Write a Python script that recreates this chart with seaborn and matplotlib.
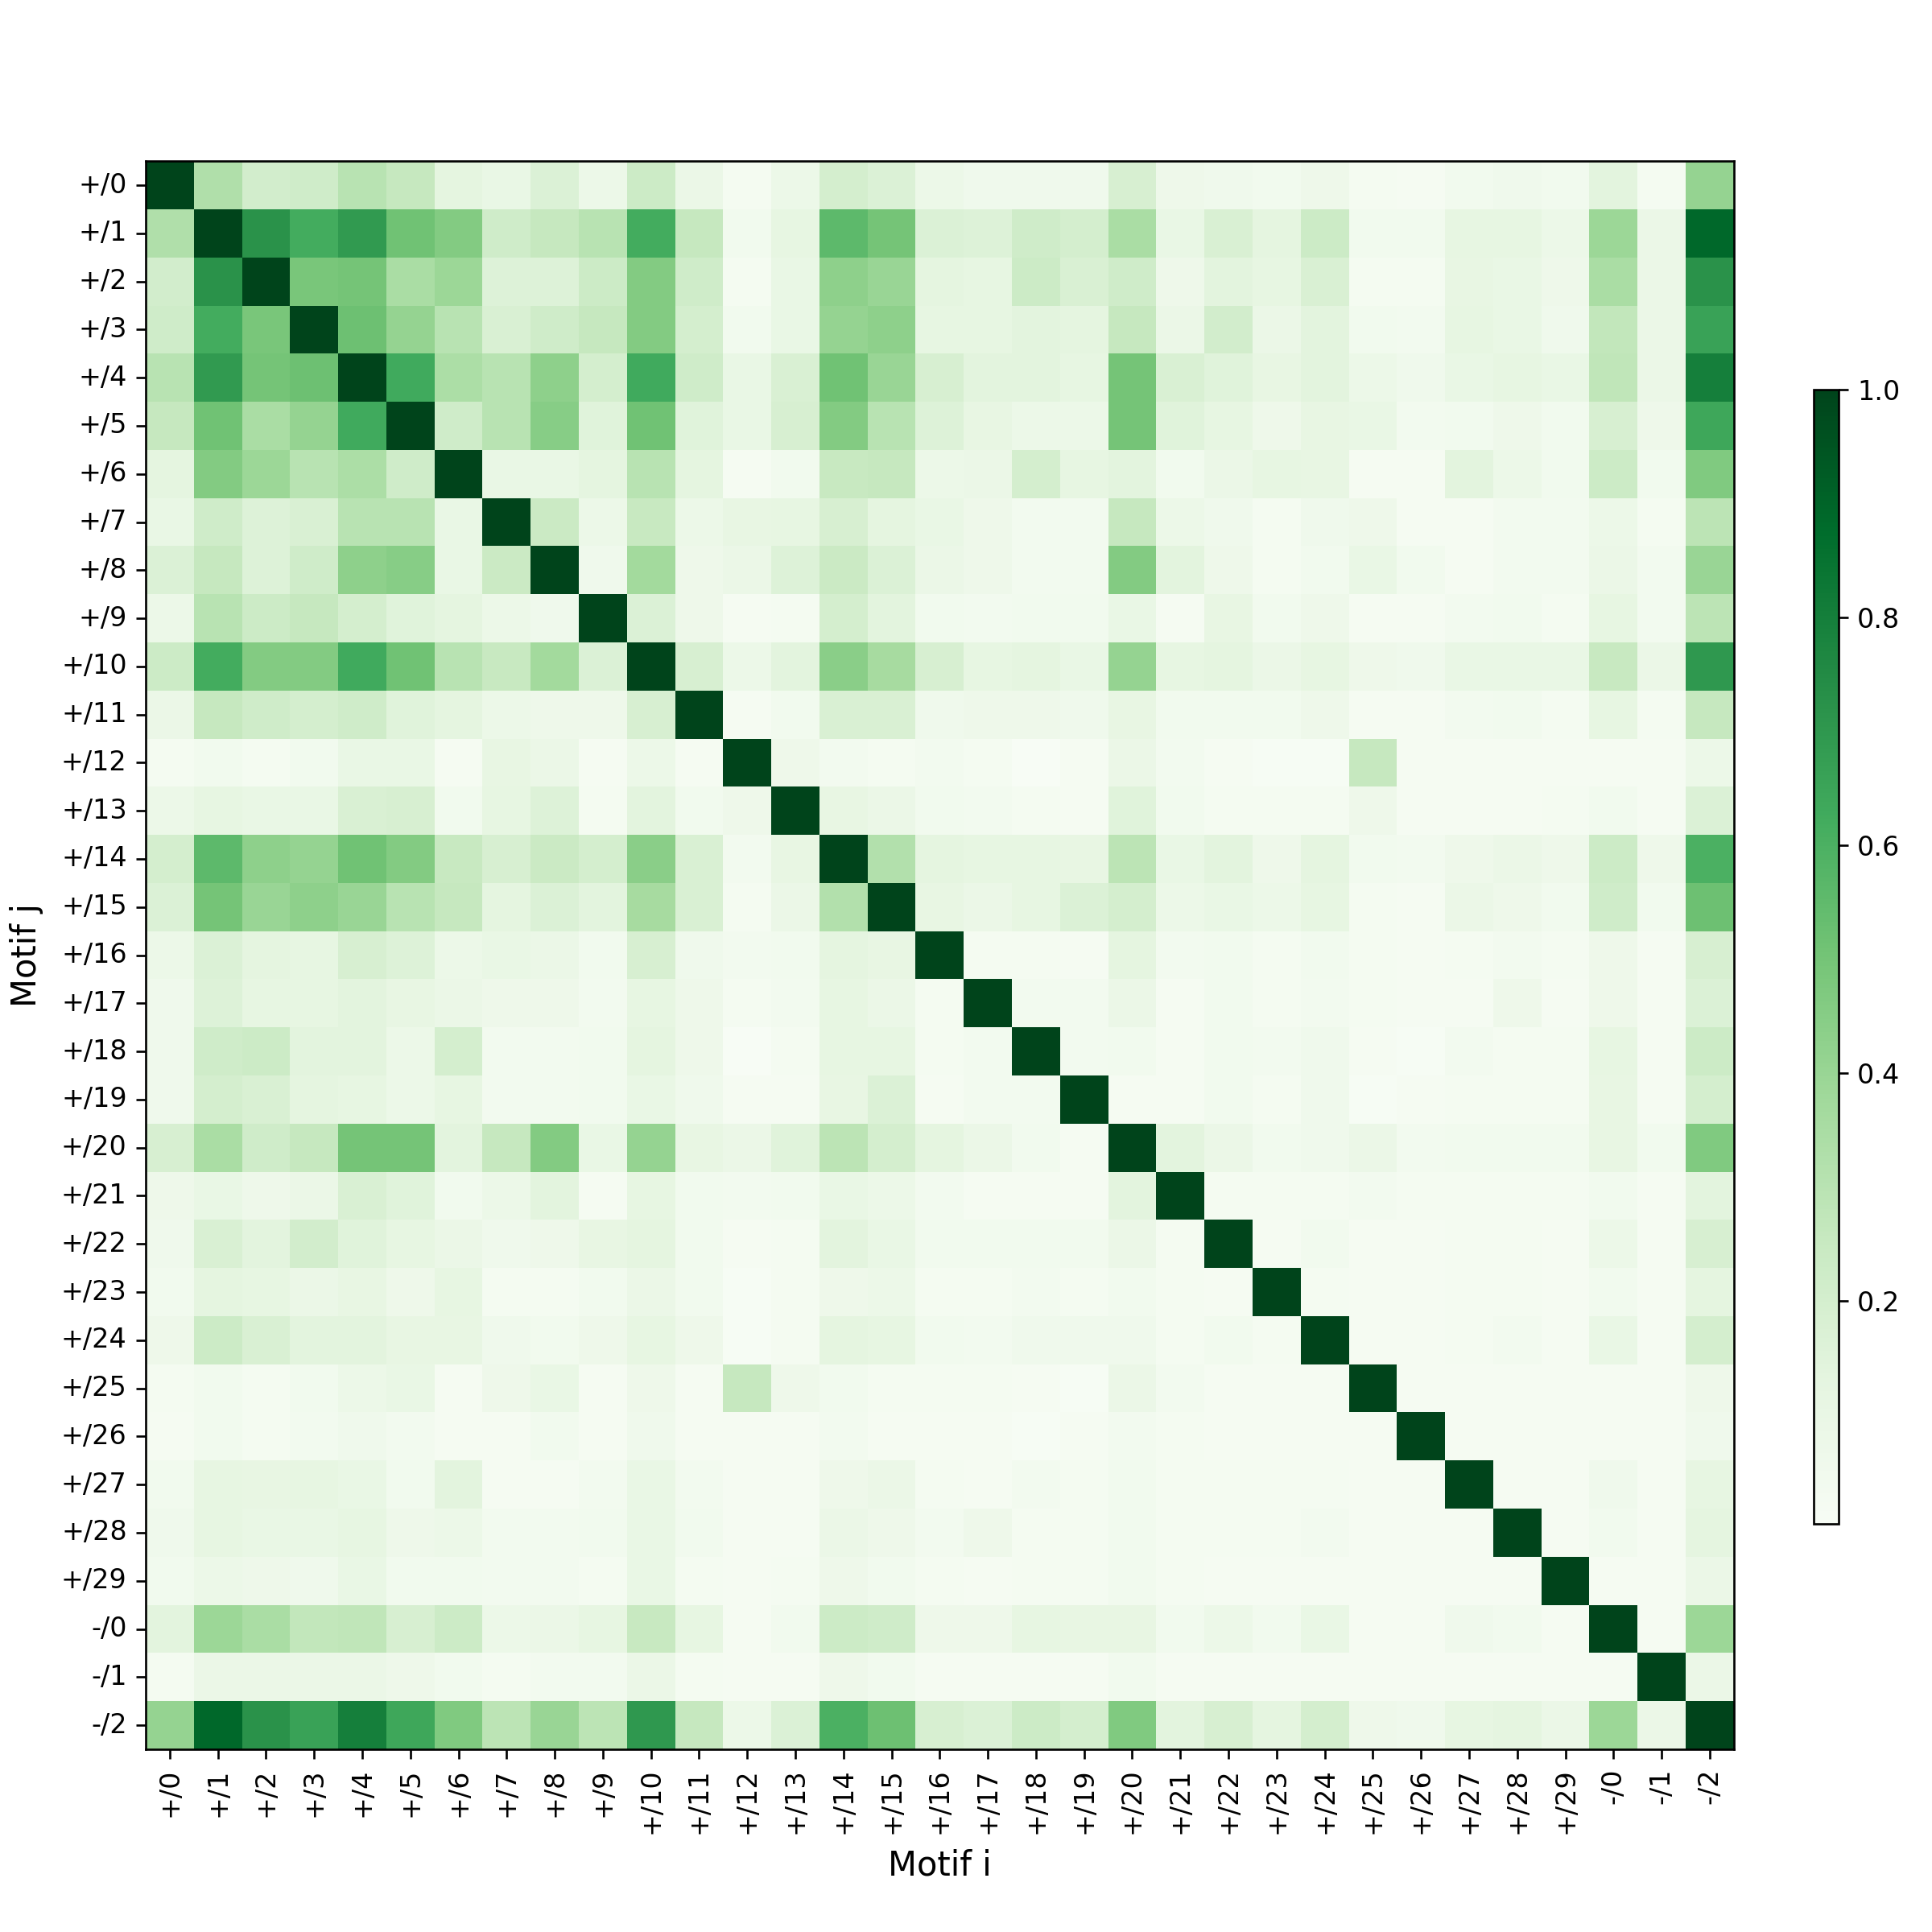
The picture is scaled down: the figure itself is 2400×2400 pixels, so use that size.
import numpy as np
import pandas as pd
import matplotlib
matplotlib.use("Agg")
import matplotlib.pyplot as plt
import seaborn as sns

labels = ["+/0", "+/1", "+/2", "+/3", "+/4", "+/5", "+/6", "+/7", "+/8", "+/9",
          "+/10", "+/11", "+/12", "+/13", "+/14", "+/15", "+/16", "+/17", "+/18", "+/19",
          "+/20", "+/21", "+/22", "+/23", "+/24", "+/25", "+/26", "+/27", "+/28", "+/29",
          "-/0", "-/1", "-/2"]

# upper-triangle rows: row i holds similarity with motifs i+1 .. last
u00 = [0.33, 0.21, 0.22, 0.30, 0.26, 0.13, 0.10, 0.17, 0.08, 0.23, 0.09, 0.03, 0.08, 0.20, 0.17, 0.08,
       0.06, 0.06, 0.06, 0.19, 0.07, 0.06, 0.05, 0.07, 0.03, 0.02, 0.05, 0.06, 0.05, 0.14, 0.03, 0.41]
u01 = [0.72, 0.62, 0.69, 0.51, 0.46, 0.22, 0.26, 0.30, 0.62, 0.26, 0.05, 0.12, 0.56, 0.50, 0.17,
       0.16, 0.22, 0.20, 0.35, 0.10, 0.18, 0.13, 0.23, 0.05, 0.05, 0.12, 0.12, 0.08, 0.39, 0.09, 0.89]
u02 = [0.49, 0.50, 0.35, 0.39, 0.16, 0.16, 0.23, 0.46, 0.22, 0.03, 0.10, 0.43, 0.40, 0.13, 0.12,
       0.23, 0.18, 0.22, 0.07, 0.14, 0.12, 0.18, 0.03, 0.03, 0.11, 0.10, 0.07, 0.35, 0.09, 0.72]
u03 = [0.52, 0.41, 0.30, 0.18, 0.22, 0.26, 0.46, 0.20, 0.05, 0.10, 0.41, 0.43, 0.12, 0.12, 0.14,
       0.13, 0.26, 0.09, 0.21, 0.09, 0.14, 0.05, 0.04, 0.12, 0.10, 0.06, 0.27, 0.09, 0.66]
u04 = [0.63, 0.34, 0.30, 0.43, 0.20, 0.63, 0.22, 0.10, 0.18, 0.51, 0.40, 0.19, 0.14, 0.14, 0.12,
       0.50, 0.18, 0.15, 0.11, 0.14, 0.08, 0.06, 0.10, 0.12, 0.10, 0.28, 0.09, 0.80]
u05 = [0.22, 0.30, 0.45, 0.15, 0.51, 0.15, 0.10, 0.19, 0.46, 0.30, 0.16, 0.11, 0.08, 0.08, 0.50,
       0.15, 0.12, 0.07, 0.11, 0.10, 0.04, 0.05, 0.07, 0.05, 0.19, 0.07, 0.64]
u06 = [0.10, 0.10, 0.13, 0.30, 0.13, 0.02, 0.05, 0.25, 0.26, 0.08, 0.09, 0.20, 0.12, 0.14, 0.05,
       0.09, 0.12, 0.11, 0.02, 0.02, 0.14, 0.08, 0.05, 0.23, 0.05, 0.47]
u07 = [0.24, 0.08, 0.25, 0.08, 0.11, 0.12, 0.19, 0.13, 0.10, 0.07, 0.04, 0.04, 0.26, 0.08, 0.06,
       0.03, 0.06, 0.07, 0.02, 0.02, 0.04, 0.04, 0.08, 0.03, 0.29]
u08 = [0.06, 0.37, 0.07, 0.09, 0.16, 0.24, 0.17, 0.09, 0.07, 0.04, 0.04, 0.46, 0.14, 0.07, 0.03,
       0.05, 0.10, 0.05, 0.02, 0.04, 0.04, 0.09, 0.04, 0.40]
u09 = [0.17, 0.07, 0.02, 0.03, 0.20, 0.14, 0.05, 0.04, 0.05, 0.05, 0.10, 0.02, 0.11, 0.05, 0.07,
       0.02, 0.02, 0.04, 0.05, 0.03, 0.12, 0.04, 0.29]
u10 = [0.19, 0.08, 0.14, 0.44, 0.36, 0.19, 0.12, 0.13, 0.10, 0.41, 0.12, 0.13, 0.09, 0.12, 0.07,
       0.06, 0.10, 0.10, 0.10, 0.25, 0.09, 0.70]
u11 = [0.02, 0.05, 0.18, 0.18, 0.06, 0.07, 0.07, 0.06, 0.11, 0.05, 0.05, 0.05, 0.07, 0.02, 0.02,
       0.04, 0.05, 0.03, 0.12, 0.03, 0.26]
u12 = [0.07, 0.04, 0.03, 0.04, 0.03, 0.004, 0.02, 0.09, 0.04, 0.02, 0.01, 0.01, 0.26, 0.02, 0.02,
       0.02, 0.02, 0.02, 0.02, 0.08]
u13 = [0.11, 0.09, 0.05, 0.04, 0.03, 0.02, 0.15, 0.05, 0.03, 0.03, 0.03, 0.07, 0.02, 0.02, 0.02,
       0.03, 0.05, 0.02, 0.17]
u14 = [0.32, 0.13, 0.12, 0.12, 0.11, 0.29, 0.10, 0.14, 0.07, 0.13, 0.05, 0.04, 0.07, 0.09, 0.07,
       0.23, 0.07, 0.60]
u15 = [0.11, 0.09, 0.12, 0.17, 0.20, 0.08, 0.10, 0.08, 0.12, 0.03, 0.02, 0.09, 0.07, 0.05, 0.22,
       0.05, 0.52]
u16 = [0.03, 0.03, 0.02, 0.13, 0.04, 0.05, 0.03, 0.05, 0.03, 0.02, 0.03, 0.04, 0.03, 0.07, 0.02, 0.19]
u17 = [0.04, 0.04, 0.09, 0.02, 0.05, 0.03, 0.04, 0.03, 0.02, 0.02, 0.07, 0.02, 0.07, 0.02, 0.17]
u18 = [0.04, 0.05, 0.02, 0.05, 0.04, 0.06, 0.02, 0.01, 0.04, 0.03, 0.03, 0.12, 0.02, 0.23]
u19 = [0.02, 0.02, 0.05, 0.03, 0.06, 0.01, 0.02, 0.03, 0.03, 0.03, 0.11, 0.02, 0.20]
u20 = [0.14, 0.09, 0.05, 0.06, 0.09, 0.04, 0.05, 0.05, 0.05, 0.11, 0.05, 0.47]
u21 = [0.03, 0.03, 0.03, 0.04, 0.03, 0.03, 0.03, 0.03, 0.05, 0.02, 0.14]
u22 = [0.02, 0.05, 0.02, 0.02, 0.03, 0.03, 0.02, 0.08, 0.02, 0.19]
u23 = [0.03, 0.02, 0.02, 0.03, 0.03, 0.02, 0.05, 0.02, 0.13]
u24 = [0.02, 0.02, 0.03, 0.04, 0.02, 0.10, 0.02, 0.20]
u25 = [0.02, 0.02, 0.02, 0.02, 0.02, 0.02, 0.07]
u26 = [0.02, 0.02, 0.02, 0.02, 0.02, 0.06]
u27 = [0.02, 0.02, 0.06, 0.02, 0.12]
u28 = [0.02, 0.05, 0.02, 0.13]
u29 = [0.02, 0.02, 0.09]
u30 = [0.02, 0.39]
u31 = [0.09]

upper_rows = [u00, u01, u02, u03, u04, u05, u06, u07, u08, u09, u10, u11, u12, u13, u14, u15,
              u16, u17, u18, u19, u20, u21, u22, u23, u24, u25, u26, u27, u28, u29, u30, u31]

n = len(labels)
mat = np.eye(n)
for i, row in enumerate(upper_rows):
    mat[i, i + 1:] = row
    mat[i + 1:, i] = row

df = pd.DataFrame(mat, index=labels, columns=labels)

fig = plt.figure(figsize=(10, 10), dpi=240)
ax = fig.add_axes([0.0754, 0.0946, 0.822, 0.822])
cax = fig.add_axes([0.9388, 0.2112, 0.0128, 0.587])

sns.heatmap(df, ax=ax, cbar_ax=cax, cmap="Greens", square=True,
            xticklabels=labels, yticklabels=labels, linewidths=0)

for s in ax.spines.values():
    s.set_visible(True)
    s.set_linewidth(0.8)
    s.set_color("black")
ax.tick_params(axis="both", length=3.5, width=0.8, labelsize=10)
ax.set_xticklabels(labels, rotation=90)
ax.set_yticklabels(labels, rotation=0)
ax.set_xlabel("Motif i", fontsize=12.5, labelpad=5.5)
ax.set_ylabel("Motif j", fontsize=12.5, labelpad=6.5)

cbar = ax.collections[0].colorbar
cbar.outline.set_visible(True)
cbar.outline.set_linewidth(0.8)
cbar.outline.set_edgecolor("black")
cbar.set_ticks([0.2, 0.4, 0.6, 0.8, 1.0])
cax.tick_params(length=3.5, width=0.8, labelsize=10)

fig.savefig("out.png", dpi=240)
